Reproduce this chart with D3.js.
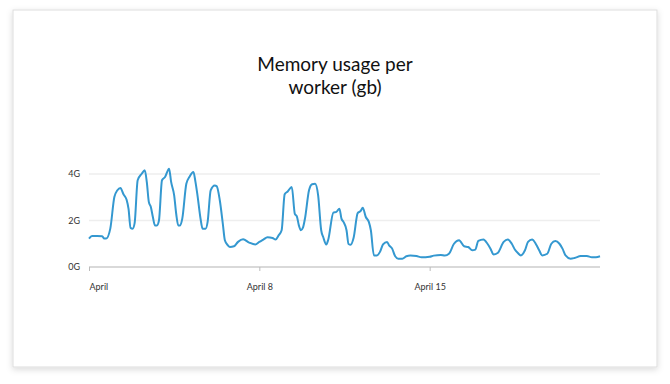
<!DOCTYPE html>
<html>
<head>
<meta charset="utf-8">
<script src="https://cdn.jsdelivr.net/npm/d3@7"></script>
<style>
  body { margin: 0; background: #fff; }
  svg { display: block; font-family: Lato, "Open Sans", sans-serif; }
</style>
</head>
<body>
<svg id="chart" width="670" height="384"></svg>
<script>
// hours since April 1, 00:00
var hours = [0,3,8,13,15,17,21,25,28,31,
  34,37,39,41,43,45,48,52,55,57,
  59,61,63,65,67,69,72,75,79,81,
  84,86,88,90,92,96,99,103,105,107,
  110,112,115,117,120,124,126,129,132,134,
  137,139,143,147,152,158,164,168,172,176,
  181,184,187,190,193,196,200,203,205,207,
  209,211,213,217,220,223,226,229,231,234,
  236,241,244,247,249,251,254,256,258,261,
  265,268,270,273,276,278,281,284,287,290,
  294,296,299,302,305,309,313,317,323,328,
  332,336,340,347,351,355,360,365,370,374,
  378,381,384,389,393,396,399,403,409,413,
  417,420,423,426,430,433,437,441,444,447,
  452,456,460,464,467,470,475,479,485,491,
  496,500,504];

// memory per worker, GB
var memory = [1.22,1.33,1.33,1.32,1.23,1.23,1.65,3.01,3.3,3.4,
  3.13,2.9,2.5,1.68,1.65,1.89,3.73,4.01,4.16,3.66,
  2.8,2.58,2.15,1.79,1.79,2.0,3.73,3.87,4.23,3.66,
  3.08,2.29,1.79,1.79,2.08,3.58,3.87,4.09,3.66,3.08,
  2.08,1.65,1.65,1.94,3.30,3.51,3.47,2.87,1.86,1.15,
  0.93,0.86,0.89,1.08,1.19,1.05,0.97,1.08,1.18,1.28,
  1.25,1.18,1.36,1.58,3.13,3.25,3.44,2.29,2.18,1.79,
  1.58,1.69,2.08,3.30,3.56,3.58,3.08,1.58,1.29,0.97,
  1.18,2.34,2.37,2.51,2.08,1.94,1.58,0.99,0.96,1.26,
  2.32,2.41,2.55,2.15,1.94,1.58,0.50,0.50,0.65,0.97,
  1.08,0.93,0.79,0.46,0.36,0.36,0.46,0.49,0.47,0.42,
  0.42,0.44,0.49,0.52,0.49,0.57,1.0,1.15,0.89,0.86,
  0.72,0.75,1.12,1.18,1.0,0.79,0.54,0.60,1.08,1.18,
  1.0,0.75,0.60,0.50,0.72,1.08,1.18,0.97,0.72,0.50,
  0.57,1.0,1.12,1.0,0.79,0.50,0.36,0.39,0.47,0.47,
  0.42,0.42,0.46];

var yTicks = [0, 2, 4];
var xTickDays = [1, 8, 15];
var xTickLabels = ["April", "April 8", "April 15"];
var titleLines = ["Memory usage per", "worker (gb)"];

var start = new Date(2020, 3, 1);
var data = hours.map(function(h, i) {
  return { date: d3.timeHour.offset(start, h), value: memory[i] };
});

var svg = d3.select("#chart");

// card
var defs = svg.append("defs");
var f = defs.append("filter").attr("id", "shadow")
  .attr("x", "-5%").attr("y", "-5%").attr("width", "110%").attr("height", "115%");
f.append("feDropShadow").attr("dx", 0).attr("dy", 2).attr("stdDeviation", 3)
  .attr("flood-color", "#000").attr("flood-opacity", 0.15);

svg.append("rect")
  .attr("x", 13).attr("y", 10).attr("width", 644).attr("height", 357)
  .attr("fill", "#fff").attr("stroke", "#ddd").attr("stroke-width", 1)
  .attr("filter", "url(#shadow)");

svg.append("text")
  .attr("x", 335).attr("y", 71)
  .attr("text-anchor", "middle")
  .attr("font-size", 19)
  .attr("fill", "#111")
  .selectAll("tspan")
  .data(titleLines)
  .enter().append("tspan")
  .attr("x", 335)
  .attr("dy", function(d, i) { return i ? 23 : 0; })
  .text(function(d) { return d; });

var x = d3.scaleTime()
  .domain([start, d3.timeDay.offset(start, 21)])
  .range([89, 600]);

var y = d3.scaleLinear()
  .domain([0, 4])
  .range([267, 174]);

// gridlines
svg.append("g").selectAll("line")
  .data(yTicks.filter(function(d) { return d > 0; }))
  .enter().append("line")
  .attr("x1", 89).attr("x2", 600)
  .attr("y1", function(d) { return y(d); })
  .attr("y2", function(d) { return y(d); })
  .attr("stroke", "#eeeeee").attr("stroke-width", 1.5);

// y labels
svg.append("g").selectAll("text")
  .data(yTicks)
  .enter().append("text")
  .attr("x", 80)
  .attr("y", function(d) { return y(d) + 3; })
  .attr("text-anchor", "end")
  .attr("font-size", 9)
  .attr("fill", "#333")
  .text(function(d) { return d + "G"; });

// x axis
var xTickDates = xTickDays.map(function(d) { return new Date(2020, 3, d); });
var xAxis = d3.axisBottom(x)
  .tickValues(xTickDates)
  .tickSize(4)
  .tickFormat(function(d, i) { return xTickLabels[i]; });

var gx = svg.append("g")
  .attr("transform", "translate(0," + y(0) + ")")
  .call(xAxis);
gx.select(".domain").attr("stroke", "#cccccc").attr("stroke-width", 1.5)
  .attr("d", "M89,0H600");
gx.selectAll(".tick line").attr("stroke", "#bbbbbb");
gx.selectAll(".tick text")
  .attr("font-family", "Lato, 'Open Sans', sans-serif")
  .attr("font-size", 9)
  .attr("fill", "#333")
  .attr("y", 17)
  .attr("text-anchor", function(d, i) { return i === 0 ? "start" : "middle"; });

var line = d3.line()
  .x(function(d) { return x(d.date); })
  .y(function(d) { return y(d.value); })
  .curve(d3.curveMonotoneX);

svg.append("path")
  .datum(data)
  .attr("fill", "none")
  .attr("stroke", "#3498d0")
  .attr("stroke-width", 2)
  .attr("stroke-linejoin", "round")
  .attr("d", line);
</script>
</body>
</html>
